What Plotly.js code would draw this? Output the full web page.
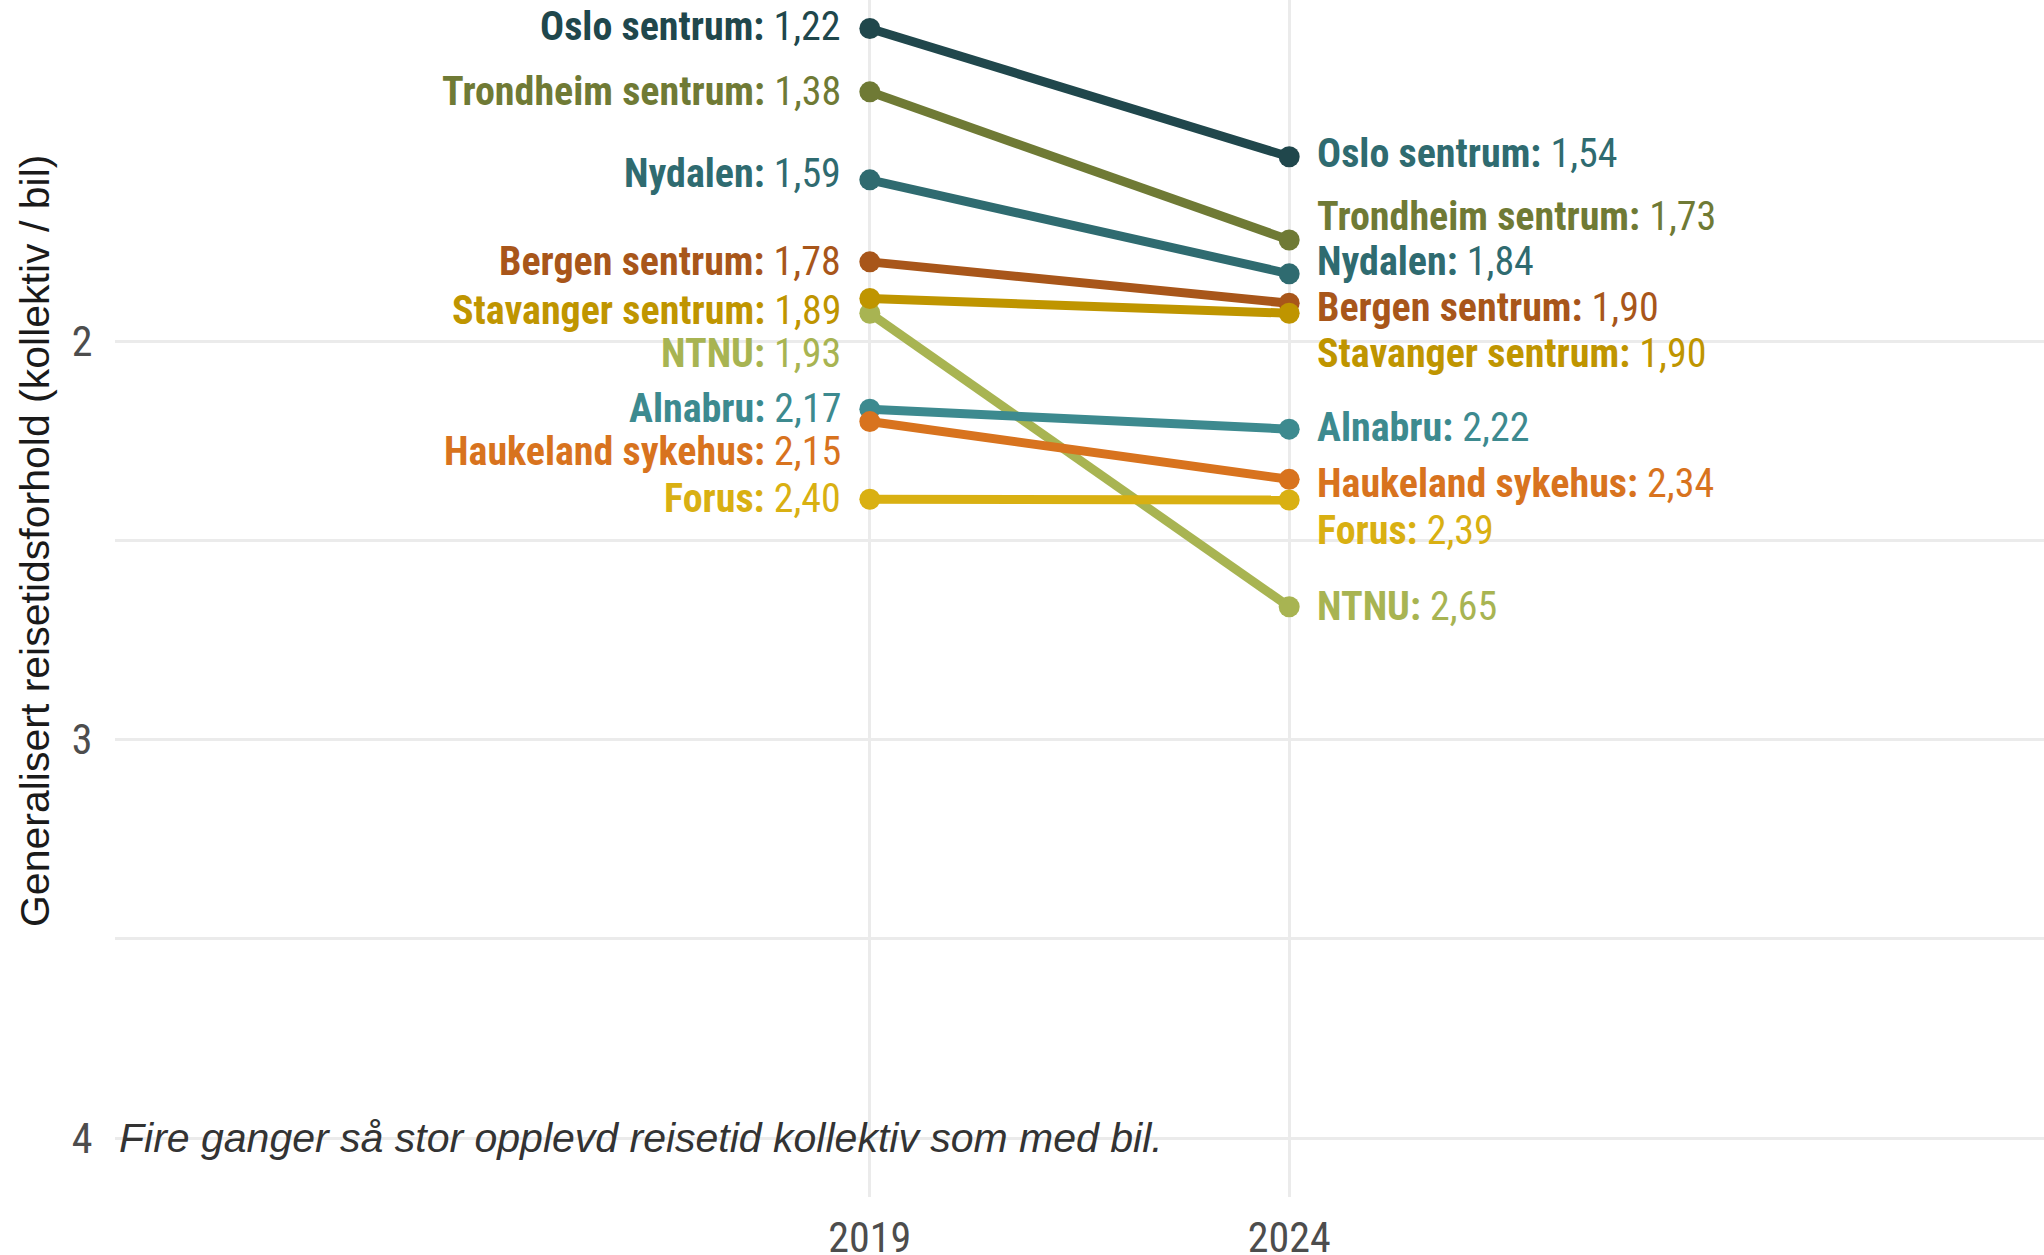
<!DOCTYPE html>
<html>
<head>
<meta charset="utf-8">
<script src="https://cdn.plot.ly/plotly-3.0.1.min.js"></script>
<style>html,body{margin:0;padding:0;background:#fff;}#chart{width:2044px;height:1255px;}</style>
</head>
<body>
<div id="chart"></div>
<script>
// ---- data ----
const places = ["Oslo sentrum","Trondheim sentrum","Nydalen","Bergen sentrum","NTNU","Stavanger sentrum","Alnabru","Haukeland sykehus","Forus"];
const years = [2019, 2024];
const values2019 = [1.214, 1.373, 1.594, 1.80, 1.929, 1.892, 2.170, 2.201, 2.396];
const values2024 = [1.536, 1.745, 1.83, 1.904, 2.666, 1.929, 2.22, 2.346, 2.398];
const labels2019 = ["1,22","1,38","1,59","1,78","1,93","1,89","2,17","2,15","2,40"];
const labels2024 = ["1,54","1,73","1,84","1,90","2,65","1,90","2,22","2,34","2,39"];
// label placement (repelled positions, in axis units)
const labelAt2019 = [1.208, 1.372, 1.578, 1.80, 2.03, 1.922, 2.167, 2.275, 2.393];
const labelAt2024 = [1.529, 1.686, 1.80, 1.915, 2.665, 2.03, 2.216, 2.357, 2.475];
const yTicks = [2, 3, 4];
const yMinorTicks = [2.5, 3.5];
const caption = "Fire ganger så stor opplevd reisetid kollektiv som med bil.";
const yTitle = "Generalisert reisetidsforhold (kollektiv / bil)";

// ---- styles ----
const colors = ["#20474c","#6f7a35","#2f6b70","#a8561a","#a8b452","#bf9500","#3d8a8f","#d8731e","#d9b012"];
const labelColors2024 = ["#2f6b70","#6f7a35","#2f6b70","#a8561a","#a8b452","#bf9500","#3d8a8f","#d8731e","#d9b012"];
const NARROW = "'Liberation Sans Narrow','Arial Narrow','Roboto Condensed','DejaVu Sans Condensed',sans-serif";
const SANS = "'Liberation Sans', Arial, sans-serif";
const GRID = "#ebebeb";

const traces = places.map((p, i) => ({
  type: "scatter",
  mode: "lines+markers",
  x: years,
  y: [values2019[i], values2024[i]],
  name: p,
  line: {color: colors[i], width: 9},
  marker: {color: colors[i], size: 21},
  cliponaxis: false,
  hoverinfo: "skip"
}));

const annotations = [];
places.forEach((p, i) => {
  annotations.push({
    x: 2019, y: labelAt2019[i], xref: "x", yref: "y",
    xanchor: "right", yanchor: "middle", xshift: -27,
    text: "<b>" + p + ":</b> " + labels2019[i],
    showarrow: false,
    font: {family: NARROW, size: 40, color: colors[i]}
  });
  annotations.push({
    x: 2024, y: labelAt2024[i], xref: "x", yref: "y",
    xanchor: "left", yanchor: "middle", xshift: 26,
    text: "<b>" + p + ":</b> " + labels2024[i],
    showarrow: false,
    font: {family: NARROW, size: 40, color: labelColors2024[i]}
  });
});
annotations.push({
  x: 0, y: 4, xref: "paper", yref: "y", xanchor: "left", yanchor: "middle", xshift: 2,
  text: "<i>" + caption + "</i>", showarrow: false,
  font: {family: SANS, size: 41, color: "#333333"}
});
annotations.push({
  x: 0, y: 0.548, xref: "paper", yref: "paper", xanchor: "center", yanchor: "middle", xshift: -80,
  text: yTitle, textangle: -90, showarrow: false,
  font: {family: SANS, size: 41, color: "#1a1a1a"}
});

const layout = {
  width: 2044, height: 1255,
  margin: {l: 115, r: 0, t: 0, b: 58},
  paper_bgcolor: "#ffffff", plot_bgcolor: "#ffffff",
  showlegend: false,
  xaxis: {
    range: [2010, 2033], tickvals: years, ticktext: years.map(String),
    showgrid: true, gridcolor: GRID, gridwidth: 3, zeroline: false, showline: false,
    ticks: "outside", ticklen: 4, tickcolor: "rgba(0,0,0,0)",
    tickfont: {family: NARROW, size: 42, color: "#4d4d4d"}
  },
  yaxis: {
    range: [4.148, 1.1425], tickvals: yTicks, ticktext: yTicks.map(String),
    showgrid: true, gridcolor: GRID, gridwidth: 3, zeroline: false, showline: false,
    ticks: "outside", ticklen: 13, tickcolor: "rgba(0,0,0,0)",
    tickfont: {family: NARROW, size: 42, color: "#4d4d4d"},
    minor: {tickvals: yMinorTicks, showgrid: true, gridcolor: GRID, gridwidth: 3, ticks: ""}
  },
  annotations: annotations
};

Plotly.newPlot("chart", traces, layout, {displayModeBar: false, staticPlot: true});
</script>
</body>
</html>
